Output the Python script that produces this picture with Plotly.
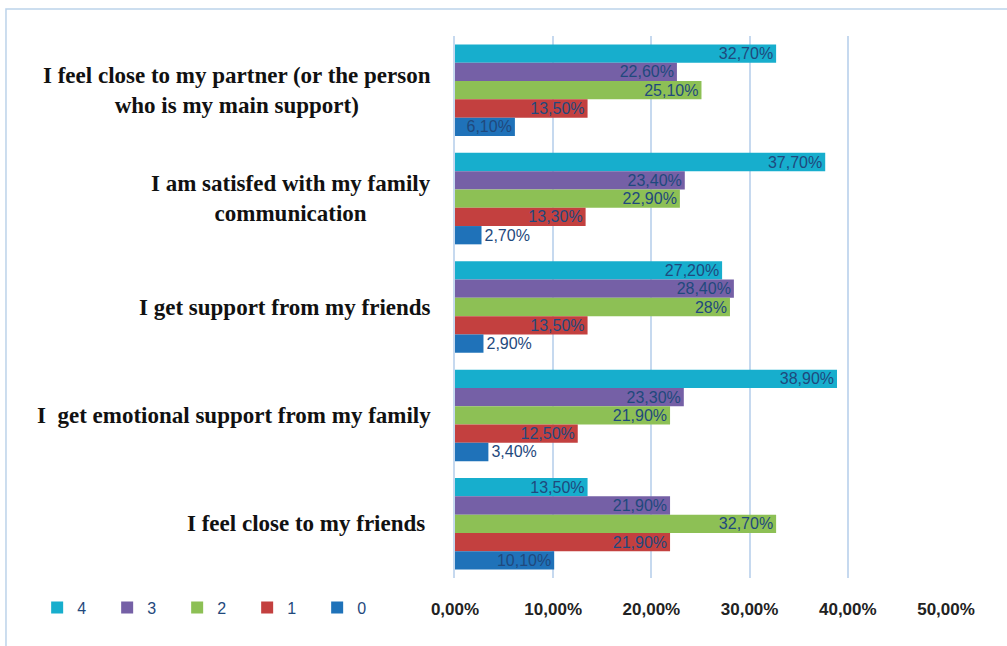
import plotly.graph_objects as go

categories = [
    "I feel close to my partner (or the person<br>who is my main support)",
    "I am satisfed with my family<br>communication",
    "I get support from my friends",
    "I  get emotional support from my family",
    "I feel close to my friends ",
]
series_names = ["4", "3", "2", "1", "0"]
values_4 = [32.7, 37.7, 27.2, 38.9, 13.5]
values_3 = [22.6, 23.4, 28.4, 23.3, 21.9]
values_2 = [25.1, 22.9, 28.0, 21.9, 32.7]
values_1 = [13.5, 13.3, 13.5, 12.5, 21.9]
values_0 = [6.1, 2.7, 2.9, 3.4, 10.1]
colors = ["#17aecd", "#7560a6", "#8dc055", "#c3403f", "#1f72b9"]
x_ticks = [0, 10, 20, 30, 40, 50]

def fmt(v):
    if float(v).is_integer():
        return f"{int(v)}%"
    return f"{v:.2f}".replace(".", ",") + "%"

fig = go.Figure()
for name, vals, col in zip(series_names, [values_4, values_3, values_2, values_1, values_0], colors):
    fig.add_trace(go.Bar(
        y=categories, x=vals, name=name, orientation="h",
        marker=dict(color=col, line=dict(width=0)),
        text=[fmt(v) for v in vals],
        textposition=["outside" if v < 5 else "inside" for v in vals],
        insidetextanchor="end",
        textfont=dict(family="Liberation Sans", size=16, color="#1f497d"),
        cliponaxis=False,
    ))

for c in categories:
    fig.add_annotation(x=-0.045, xref="paper", y=c, yref="y", text=f"<b>{c}</b>",
                       showarrow=False, xanchor="right", align="center",
                       font=dict(family="Liberation Serif", size=23, color="#111111"))

fig.add_shape(type="rect", xref="paper", yref="paper", x0=-0.9145, x1=1.2, y0=-0.2, y1=1.0498,
              line=dict(color="#bcd3ea", width=1.5), fillcolor="rgba(0,0,0,0)", layer="below")

fig.update_layout(
    width=1007, height=646,
    margin=dict(l=455, r=61, t=36, b=68),
    paper_bgcolor="white", plot_bgcolor="white",
    barmode="group", bargap=0.156, bargroupgap=0,
    uniformtext=dict(minsize=16, mode="show"),
    showlegend=True,
    legend=dict(orientation="h", x=-0.851, xanchor="left", y=-0.0545, yanchor="middle",
                entrywidth=25, entrywidthmode="pixels", itemwidth=30,
                bgcolor="rgba(0,0,0,0)",
                font=dict(family="Liberation Sans", size=16, color="#1f497d"),
                traceorder="normal"),
    xaxis=dict(range=[0, 50], tickvals=x_ticks, ticktext=[f"{v:.2f}".replace(".", ",") + "%" for v in x_ticks],
               showgrid=True, gridcolor="#c6d9ef", gridwidth=1.5, zeroline=False,
               showline=False, ticks="", ticklabelstandoff=19,
               tickfont=dict(family="Liberation Sans", size=17, color="#222222", weight="bold")),
    yaxis=dict(autorange="reversed", showticklabels=False, showgrid=False, zeroline=False,
               showline=True, linecolor="#c6d9ef", linewidth=1.5, ticks=""),
)

fig.write_html("out.html", config={"displayModeBar": False},
               post_script="document.body.style.margin='0';")
